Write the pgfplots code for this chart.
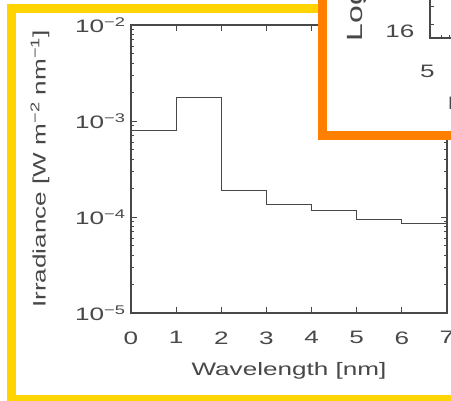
\documentclass[border=0pt]{standalone}
\usepackage{fontspec}
\setmainfont{Liberation Sans}[FakeStretch=1.45]
\usepackage{pgfplots}
\pgfplotsset{compat=1.18}
\definecolor{frameyellow}{HTML}{FFD400}
\definecolor{frameorange}{HTML}{FF7F00}
\definecolor{ink}{HTML}{484848}
\begin{document}
\begin{tikzpicture}[x=1pt,y=1pt, every node/.style={font=\fontsize{18}{21}\selectfont}]
\useasboundingbox (0,0) rectangle (451,-401);
\clip (0,0) rectangle (451,-401);
\fill[white] (0,0) rectangle (451,-401);
\draw[frameyellow, line width=9pt] (11.5,-399.5) rectangle (480,-9);
\begin{axis}[
  at={(131pt,-313pt)}, anchor=south west,
  scale only axis, width=316pt, height=288pt,
  xmin=0, xmax=7, ymode=log, ymin=1e-5, ymax=1e-2,
  xtick={0,1,2,3,4,5,6,7},
  ytick={1e-5,1e-4,1e-3,1e-2},
  yticklabels={10\textsuperscript{−5},10\textsuperscript{−4},10\textsuperscript{−3},10\textsuperscript{−2}},
  minor ytick={2e-5,3e-5,4e-5,5e-5,6e-5,7e-5,8e-5,9e-5,2e-4,3e-4,4e-4,5e-4,6e-4,7e-4,8e-4,9e-4,2e-3,3e-3,4e-3,5e-3,6e-3,7e-3,8e-3,9e-3},
  tick align=inside, major tick length=6pt, minor tick length=3pt,
  axis line style={ink, line width=1.1pt},
  every tick/.style={ink, line width=0.9pt},
  /pgf/number format/assume math mode=true,
  tick label style={ink, font=\fontsize{18}{21}\selectfont},
  xticklabel style={yshift=-15pt},
  yticklabel style={xshift=-2pt},
  xlabel={Wavelength [nm]},
  ylabel={Irradiance [W m\textsuperscript{−2} nm\textsuperscript{−1}]},
  label style={ink, font=\fontsize{18}{21}\selectfont},
  xlabel style={at={(axis description cs:0.5,-0.201)}, anchor=center},
  ylabel style={at={(axis description cs:-0.288,0.5)}, anchor=center},
]
\addplot[const plot, ink, line width=1.1pt] coordinates {
  (0,7.9e-4) (1,1.74e-3) (2,1.9e-4) (3,1.34e-4) (4,1.18e-4) (5,9.4e-5) (6,8.5e-5) (7,8.5e-5)
};
\end{axis}
\filldraw[fill=white, draw=frameorange, line width=9pt] (322.5,20) rectangle (480,-135.5);
\node[ink, rotate=90, anchor=base west, font=\fontsize{22}{26}\selectfont] at (362,-45) {Log};
\node[ink, anchor=base east] at (418,-38) {16};
\draw[ink, line width=1.1pt] (430,2) -- (430,-38) -- (460,-38);
\draw[ink, line width=0.9pt] (430,-6) -- (434,-6) (430,-24) -- (434,-24) (441,-38) -- (441,-35) (449,-38) -- (449,-35);
\node[ink, anchor=base] at (427.5,-78) {5};
\node[ink, anchor=base west] at (444,-110) {L};
\end{tikzpicture}
\end{document}
